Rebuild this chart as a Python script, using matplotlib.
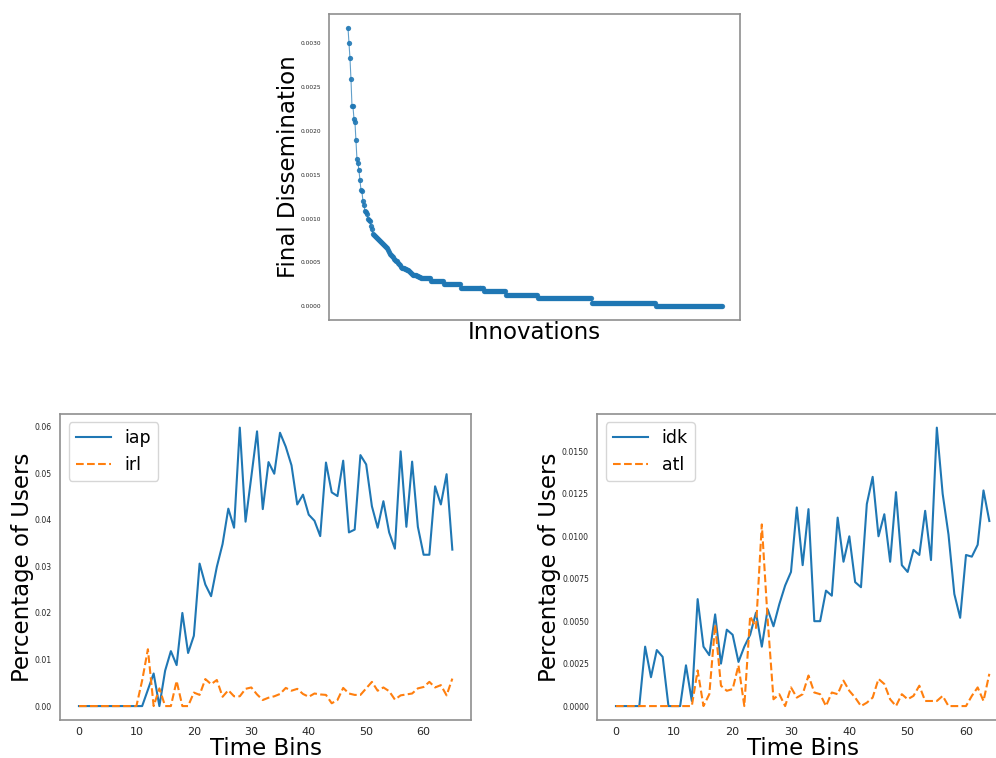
import matplotlib
matplotlib.use("Agg")
import matplotlib.pyplot as plt
import numpy as np

# --- top panel: final dissemination per innovation (sorted) ---
head_vals = [0.00318, 0.00300, 0.00283, 0.00259, 0.00229, 0.00228, 0.00214, 0.00210,
             0.00190, 0.00168, 0.00163, 0.00155, 0.00144, 0.00133, 0.00131, 0.00120,
             0.00115, 0.00109, 0.00107, 0.00105, 0.00100, 0.00098, 0.00097, 0.00091,
             0.00088,
             0.00082, 0.00081, 0.00080, 0.00079, 0.00078, 0.00077, 0.00075, 0.00074,
             0.00073, 0.00072, 0.00071, 0.00070, 0.00069, 0.00068, 0.00066, 0.00064,
             0.00062, 0.00060, 0.00058, 0.00057, 0.00056, 0.00054, 0.00053, 0.00052,
             0.00051, 0.00049, 0.00048, 0.00047, 0.00045, 0.00044, 0.00043, 0.00043,
             0.00042, 0.00042, 0.00041, 0.00041, 0.00040, 0.00039, 0.00038, 0.00037,
             0.00036, 0.00036, 0.00035, 0.00035, 0.00034, 0.00034, 0.00033, 0.00033]
plateau_levels = [0.00032, 0.00029, 0.00025, 0.00021, 0.00017, 0.00013, 0.00009, 0.00004, 0.0]
plateau_counts = [10, 13, 17, 24, 22, 32, 54, 64, 67]

# --- bottom left: iap vs irl ---
iap = [0, 0, 0, 0, 0, 0, 0, 0, 0, 0, 0, 0, 0.0035, 0.0070, 0, 0.0076, 0.0118, 0.0088,
       0.0200, 0.0114, 0.0151, 0.0306, 0.0261, 0.0236, 0.0299, 0.0348, 0.0424, 0.0383,
       0.0598, 0.0396, 0.0492, 0.0590, 0.0423, 0.0524, 0.0499, 0.0587, 0.0557, 0.0517,
       0.0433, 0.0454, 0.0411, 0.0398, 0.0365, 0.0523, 0.0459, 0.0451, 0.0527, 0.0373,
       0.0379, 0.0539, 0.0519, 0.0429, 0.0383, 0.0440, 0.0373, 0.0338, 0.0547, 0.0385,
       0.0525, 0.0385, 0.0325, 0.0325, 0.0472, 0.0433, 0.0498, 0.0336]
irl = [0, 0, 0, 0, 0, 0, 0, 0, 0, 0, 0, 0.0055, 0.0122, 0, 0.0038, 0, 0, 0.0054, 0, 0,
       0.0029, 0.0024, 0.0058, 0.0047, 0.0056, 0.0020, 0.0034, 0.0021, 0.0021, 0.0037,
       0.0040, 0.0025, 0.0013, 0.0018, 0.0021, 0.0026, 0.0039, 0.0033, 0.0037, 0.0026,
       0.0020, 0.0027, 0.0025, 0.0024, 0.0006, 0.0013, 0.0039, 0.0027, 0.0024, 0.0024,
       0.0038, 0.0052, 0.0033, 0.0040, 0.0032, 0.0014, 0.0023, 0.0025, 0.0027, 0.0038,
       0.0041, 0.0052, 0.0040, 0.0045, 0.0023, 0.0059]

# --- bottom right: idk vs atl ---
idk = [0, 0, 0, 0, 0, 0.0035, 0.0017, 0.0033, 0.0029, 0, 0, 0, 0.0024, 0.0003, 0.0063,
       0.0035, 0.0030, 0.0054, 0.0025, 0.0045, 0.0042, 0.0026, 0.0035, 0.0042, 0.0055,
       0.0035, 0.0057, 0.0047, 0.0060, 0.0071, 0.0079, 0.0117, 0.0083, 0.0116, 0.0050,
       0.0050, 0.0068, 0.0065, 0.0111, 0.0085, 0.0100, 0.0073, 0.0070, 0.0119, 0.0135,
       0.0100, 0.0113, 0.0085, 0.0126, 0.0083, 0.0079, 0.0092, 0.0089, 0.0115, 0.0086,
       0.0164, 0.0125, 0.0101, 0.0066, 0.0052, 0.0089, 0.0088, 0.0095, 0.0127, 0.0109]
atl = [0, 0, 0, 0, 0, 0, 0, 0, 0, 0, 0, 0, 0, 0, 0.0021, 0, 0.0007, 0.0048, 0.0012,
       0.0009, 0.0010, 0.0024, 0, 0.0053, 0.0046, 0.0107, 0.0051, 0.0004, 0.0007, 0,
       0.0011, 0.0005, 0.0007, 0.0018, 0.0008, 0.0007, 0, 0.0008, 0.0007, 0.0015, 0.0009,
       0.0005, 0, 0.0002, 0.0005, 0.0016, 0.0013, 0.0004, 0, 0.0007, 0.0004, 0.0006,
       0.0012, 0.0003, 0.0003, 0.0003, 0.0006, 0, 0, 0, 0, 0.0006, 0.0011, 0.0003, 0.0019]

dissem = np.concatenate([head_vals, np.repeat(plateau_levels, plateau_counts)])

spine_col = "#8f8f8f"
tick_col = "#262626"
W, H = 996, 758


def box(left, top, right, bottom):
    return [left / W, 1 - bottom / H, (right - left) / W, (bottom - top) / H]


def style(ax, yfs):
    for s in ax.spines.values():
        s.set_color(spine_col)
        s.set_linewidth(1.2)
    ax.tick_params(length=0, colors=tick_col)
    ax.tick_params(axis="y", labelsize=yfs, pad=6)


fig = plt.figure(figsize=(W / 100, H / 100), dpi=100)

ax0 = fig.add_axes(box(329.3, 13.7, 740.3, 320))
ax0.plot(np.arange(len(dissem)), dissem, "-", color="#1f77b4", lw=0.8, alpha=0.7)
ax0.plot(np.arange(len(dissem)), dissem, "o", color="#1f77b4", ms=3.8, alpha=0.9,
         markeredgewidth=0)
ax0.set_xticks([])
ax0.set_yticks([0, 0.0005, 0.001, 0.0015, 0.002, 0.0025, 0.003])
ax0.set_yticklabels(["0.0000", "0.0005", "0.0010", "0.0015", "0.0020", "0.0025", "0.0030"])
style(ax0, 4.2)
ax0.set_xlabel("Innovations", fontsize=16.5, labelpad=1)
ax0.set_ylabel("Final Dissemination", fontsize=16.5, labelpad=0.5)

ax1 = fig.add_axes(box(60.3, 413.7, 471, 720))
ax1.plot(range(len(iap)), iap, "-", color="#1f77b4", lw=1.5, label="iap")
ax1.plot(range(len(irl)), irl, "--", color="#ff7f0e", lw=1.5, label="irl")
ax1.set_yticks([0, 0.01, 0.02, 0.03, 0.04, 0.05, 0.06])
style(ax1, 5.6)
ax1.tick_params(axis="x", labelsize=8, pad=5)
ax1.set_xlabel("Time Bins", fontsize=16.5, labelpad=0)
ax1.set_ylabel("Percentage of Users", fontsize=16.5, labelpad=0.5)
ax1.legend(loc="upper left", fontsize=12.5)

ax2 = fig.add_axes(box(597.3, 413.7, 1008, 720))
ax2.plot(range(len(idk)), idk, "-", color="#1f77b4", lw=1.5, label="idk")
ax2.plot(range(len(atl)), atl, "--", color="#ff7f0e", lw=1.5, label="atl")
ax2.set_yticks([0, 0.0025, 0.005, 0.0075, 0.01, 0.0125, 0.015])
ax2.set_yticklabels(["0.0000", "0.0025", "0.0050", "0.0075", "0.0100", "0.0125", "0.0150"])
style(ax2, 5.6)
ax2.tick_params(axis="x", labelsize=8, pad=5)
ax2.set_xlabel("Time Bins", fontsize=16.5, labelpad=0)
ax2.set_ylabel("Percentage of Users", fontsize=16.5, labelpad=0.5)
ax2.legend(loc="upper left", fontsize=12.5)

fig.savefig("out.png", dpi=100)
